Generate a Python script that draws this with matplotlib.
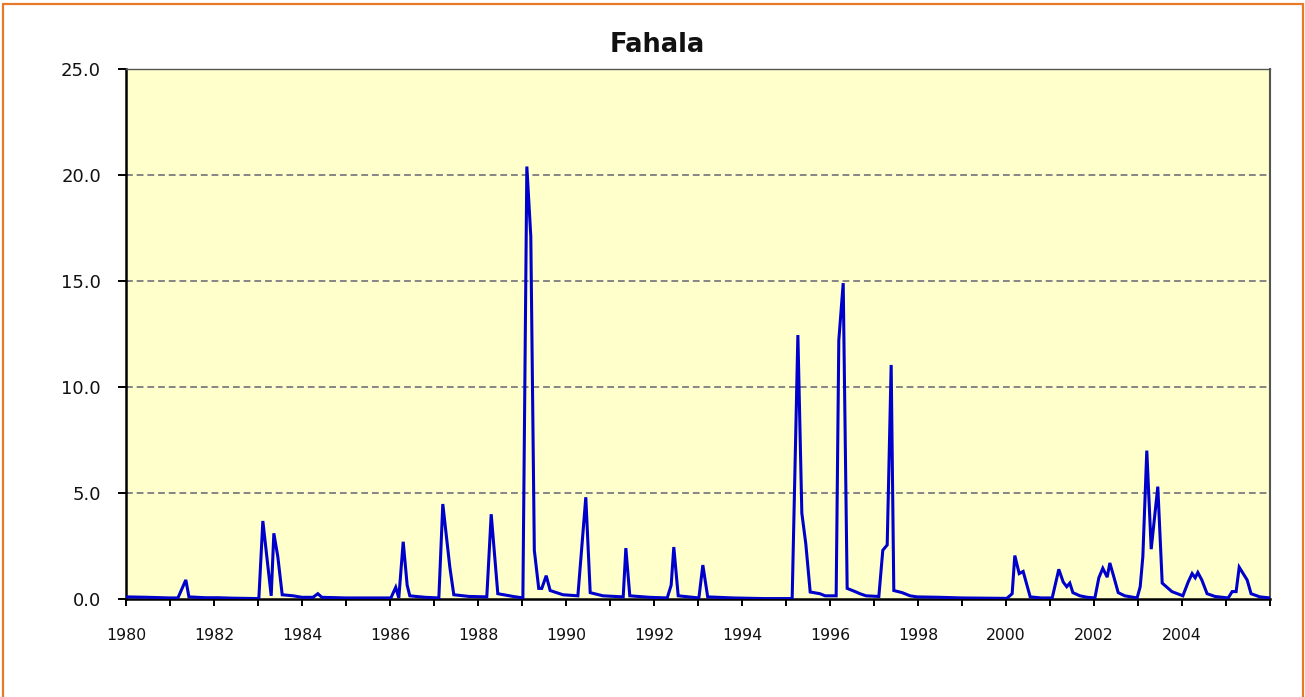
import matplotlib
matplotlib.use("Agg")
import matplotlib.pyplot as plt
from matplotlib.patches import Rectangle

# Fahala discharge series (decimal year, value)
years = [
    1980.00, 1980.50, 1981.00, 1981.18, 1981.36, 1981.43, 1981.80, 1982.10, 1982.40, 1983.00,
    1983.02, 1983.11, 1983.30, 1983.36, 1983.45, 1983.55, 1983.80, 1984.00, 1984.25, 1984.36,
    1984.45, 1985.00, 1985.50, 1986.02, 1986.13, 1986.20, 1986.30, 1986.39, 1986.45, 1986.80,
    1987.11, 1987.20, 1987.36, 1987.45, 1987.80, 1988.20, 1988.30, 1988.45, 1988.80, 1989.02,
    1989.11, 1989.20, 1989.28, 1989.38, 1989.45, 1989.55, 1989.64, 1989.93, 1990.27, 1990.45,
    1990.55, 1990.84, 1991.30, 1991.36, 1991.45, 1991.90, 1992.30, 1992.39, 1992.45, 1992.55,
    1993.02, 1993.11, 1993.22, 1993.80, 1994.50, 1995.14, 1995.27, 1995.36, 1995.45, 1995.55,
    1995.77, 1995.89, 1996.14, 1996.20, 1996.30, 1996.39, 1996.57, 1996.68, 1996.82, 1997.11,
    1997.20, 1997.30, 1997.39, 1997.45, 1997.64, 1997.82, 1997.98, 1998.50, 1999.00, 1999.50,
    2000.02, 2000.14, 2000.20, 2000.30, 2000.39, 2000.55, 2000.80, 2001.05, 2001.20, 2001.30,
    2001.38, 2001.45, 2001.52, 2001.68, 2001.85, 2002.02, 2002.11, 2002.20, 2002.30, 2002.36,
    2002.45, 2002.55, 2002.70, 2002.98, 2003.05, 2003.11, 2003.20, 2003.30, 2003.45, 2003.55,
    2003.77, 2004.02, 2004.14, 2004.23, 2004.30, 2004.36, 2004.45, 2004.57, 2004.75, 2005.05,
    2005.14, 2005.23, 2005.30, 2005.48, 2005.57, 2005.77, 2006.00,
]
flow = [
    0.10, 0.08, 0.05, 0.05, 0.90, 0.10, 0.06, 0.06, 0.04, 0.02,
    0.05, 3.68, 0.15, 3.10, 2.00, 0.20, 0.15, 0.08, 0.08, 0.25,
    0.08, 0.05, 0.05, 0.05, 0.55, 0.05, 2.70, 0.65, 0.15, 0.08,
    0.05, 4.48, 1.50, 0.20, 0.12, 0.10, 4.00, 0.25, 0.12, 0.05,
    20.40, 17.10, 2.30, 0.50, 0.50, 1.10, 0.40, 0.20, 0.15, 4.80,
    0.30, 0.15, 0.10, 2.40, 0.15, 0.08, 0.05, 0.65, 2.45, 0.15,
    0.05, 1.60, 0.10, 0.05, 0.02, 0.02, 12.45, 4.05, 2.60, 0.33,
    0.25, 0.15, 0.15, 12.20, 14.90, 0.50, 0.35, 0.25, 0.15, 0.12,
    2.30, 2.55, 11.04, 0.40, 0.30, 0.15, 0.10, 0.08, 0.05, 0.04,
    0.03, 0.25, 2.05, 1.20, 1.30, 0.10, 0.05, 0.05, 1.40, 0.80,
    0.58, 0.75, 0.30, 0.15, 0.08, 0.05, 1.00, 1.45, 1.03, 1.70,
    1.05, 0.30, 0.15, 0.05, 0.58, 2.00, 7.00, 2.35, 5.30, 0.75,
    0.35, 0.15, 0.80, 1.20, 1.00, 1.25, 0.90, 0.25, 0.12, 0.05,
    0.35, 0.35, 1.50, 0.90, 0.25, 0.10, 0.05,
]

tick_years = list(range(1980, 2007))
label_years = list(range(1980, 2005, 2))
y_ticks = [0, 5, 10, 15, 20, 25]

plt.rcParams['font.family'] = ['DejaVu Sans']

W, H = 1305, 697
fig = plt.figure(figsize=(W / 100, H / 100), dpi=100)
ax = fig.add_axes([126 / W, 1 - 599 / H, (1270 - 126) / W, (599 - 69) / H])

ax.set_facecolor('#FFFFCC')
for yv in y_ticks[1:]:
    ax.axhline(yv, color='#858585', linestyle=(0, (3.5, 2)), linewidth=1.4, zorder=1)

ax.plot(years, flow, color='#0000CC', linewidth=2.2, zorder=3, solid_joinstyle='miter')

ax.set_xlim(1980, 2006)
ax.set_ylim(0, 25)
ax.set_yticks(y_ticks)
ax.set_yticklabels([f"{v:.1f}" for v in y_ticks], fontsize=13, color='#111111')
ax.set_xticks(tick_years)
ax.set_xticklabels([str(y) if y in label_years else '' for y in tick_years],
                   fontsize=11.3, color='#111111')
ax.tick_params(axis='x', direction='out', length=5, width=1.4, color='black', pad=16)
ax.tick_params(axis='y', direction='out', length=6, width=1.4, color='black', pad=12)

ax.spines['left'].set_color('black')
ax.spines['left'].set_linewidth(1.8)
ax.spines['bottom'].set_color('black')
ax.spines['bottom'].set_linewidth(1.8)
ax.spines['top'].set_color('#555555')
ax.spines['top'].set_linewidth(1.0)
ax.spines['right'].set_color('#555555')
ax.spines['right'].set_linewidth(1.5)

# chart title, centred on the whole chart area
fig.text(657 / W, 1 - 45 / H, 'Fahala', fontsize=18.5, fontweight='bold',
         ha='center', va='center', color='#111111')

# orange frame around the chart area
fig.patches.append(Rectangle((3 / W, -0.01), 1300 / W, 1 - 4 / H + 0.01,
                             transform=fig.transFigure, fill=False,
                             edgecolor='#E8782A', linewidth=1.6))

fig.savefig('out.png', dpi=100, facecolor='white')
